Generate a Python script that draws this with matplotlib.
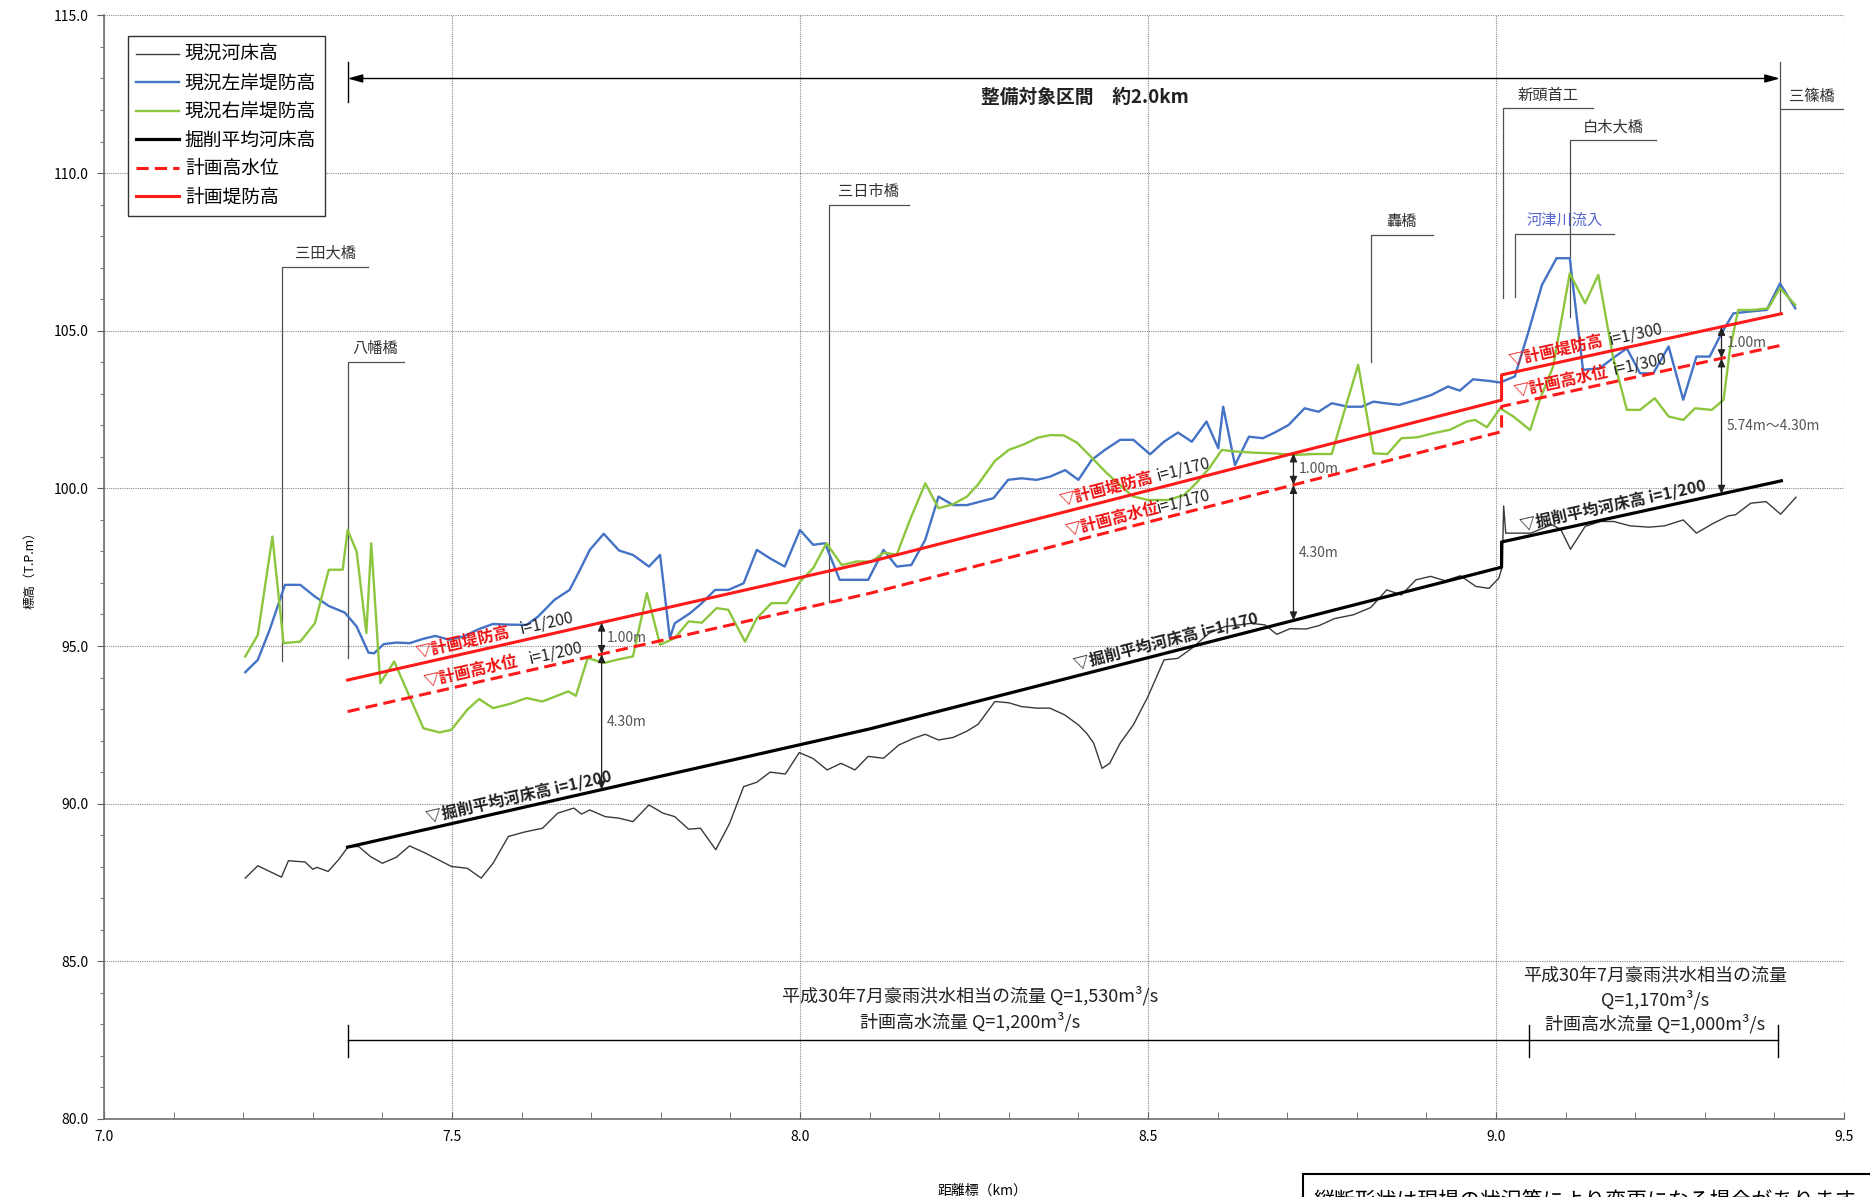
import numpy as np
import matplotlib
matplotlib.use('Agg')
from matplotlib import pyplot as plt
from matplotlib.patches import Rectangle
from matplotlib.ticker import FormatStrFormatter, MultipleLocator

plt.rcParams['font.family'] = ['Noto Sans CJK JP', 'DejaVu Sans']

##-----------------------------------------------------------------------------
## 現況河床高
bed_km = [7.203, 7.221, 7.255, 7.265, 7.289, 7.300, 7.306, 7.322, 7.337, 7.351,
          7.366, 7.383, 7.400, 7.420, 7.439, 7.462, 7.476, 7.499, 7.522, 7.542,
          7.559, 7.581, 7.604, 7.630, 7.652, 7.675, 7.686, 7.698, 7.720, 7.740,
          7.760, 7.783, 7.803, 7.820, 7.840, 7.857, 7.879, 7.899, 7.919, 7.938,
          7.957, 7.979, 7.999, 8.019, 8.039, 8.059, 8.079, 8.098, 8.120, 8.142,
          8.163, 8.180, 8.199, 8.220, 8.240, 8.256, 8.280, 8.300, 8.318, 8.340,
          8.359, 8.380, 8.400, 8.412, 8.422, 8.434, 8.445, 8.460, 8.479, 8.500,
          8.523, 8.543, 8.563, 8.588, 8.611, 8.631, 8.648, 8.668, 8.685, 8.704,
          8.727, 8.746, 8.768, 8.795, 8.820, 8.843, 8.864, 8.885, 8.906, 8.927,
          8.949, 8.971, 8.990, 9.004, 9.009, 9.011, 9.014, 9.050, 9.080, 9.093,
          9.107, 9.128, 9.150, 9.169, 9.193, 9.220, 9.242, 9.269, 9.288, 9.312,
          9.334, 9.344, 9.366, 9.388, 9.409, 9.431]
bed_el = [87.64, 88.03, 87.67, 88.19, 88.15, 87.92, 87.98, 87.85, 88.22, 88.64,
          88.64, 88.32, 88.11, 88.30, 88.66, 88.43, 88.27, 88.01, 87.95, 87.64,
          88.11, 88.96, 89.10, 89.22, 89.70, 89.86, 89.67, 89.80, 89.59, 89.54,
          89.43, 89.96, 89.70, 89.59, 89.19, 89.22, 88.54, 89.38, 90.54, 90.68,
          91.00, 90.94, 91.62, 91.43, 91.07, 91.28, 91.07, 91.50, 91.44, 91.86,
          92.07, 92.20, 92.02, 92.10, 92.30, 92.52, 93.24, 93.20, 93.08, 93.03,
          93.03, 92.82, 92.50, 92.23, 91.92, 91.12, 91.28, 91.92, 92.50, 93.40,
          94.56, 94.61, 94.93, 95.41, 95.62, 95.67, 95.72, 95.67, 95.37, 95.55,
          95.54, 95.65, 95.87, 95.99, 96.22, 96.78, 96.62, 97.10, 97.21, 97.07,
          97.23, 96.89, 96.83, 97.15, 97.52, 99.44, 98.58, 98.58, 98.85, 98.70,
          98.07, 98.79, 98.95, 98.95, 98.81, 98.77, 98.81, 99.00, 98.58, 98.89,
          99.13, 99.16, 99.53, 99.58, 99.18, 99.72]

## 現況左岸堤防高
left_km = [7.203, 7.221, 7.238, 7.260, 7.282, 7.303, 7.323, 7.346, 7.363, 7.380,
           7.388, 7.402, 7.420, 7.439, 7.459, 7.476, 7.496, 7.516, 7.539, 7.559,
           7.578, 7.607, 7.624, 7.647, 7.669, 7.684, 7.698, 7.718, 7.740, 7.760,
           7.783, 7.799, 7.813, 7.820, 7.842, 7.859, 7.878, 7.897, 7.919, 7.938,
           7.957, 7.978, 8.000, 8.019, 8.036, 8.057, 8.079, 8.098, 8.120, 8.139,
           8.160, 8.180, 8.199, 8.220, 8.240, 8.259, 8.278, 8.299, 8.318, 8.340,
           8.359, 8.381, 8.400, 8.419, 8.438, 8.460, 8.479, 8.503, 8.523, 8.543,
           8.563, 8.584, 8.601, 8.608, 8.625, 8.645, 8.665, 8.682, 8.702, 8.725,
           8.745, 8.764, 8.787, 8.807, 8.824, 8.841, 8.861, 8.886, 8.907, 8.931,
           8.948, 8.967, 8.989, 9.006, 9.027, 9.046, 9.066, 9.087, 9.106, 9.125,
           9.149, 9.168, 9.188, 9.207, 9.226, 9.248, 9.269, 9.288, 9.307, 9.324,
           9.341, 9.365, 9.389, 9.408, 9.430]
left_el = [94.17, 94.56, 95.51, 96.94, 96.94, 96.57, 96.27, 96.06, 95.62, 94.79,
           94.77, 95.06, 95.11, 95.09, 95.23, 95.32, 95.20, 95.30, 95.54, 95.70,
           95.68, 95.67, 95.94, 96.46, 96.78, 97.42, 98.05, 98.56, 98.03, 97.89,
           97.52, 97.89, 95.25, 95.72, 96.04, 96.36, 96.78, 96.78, 96.99, 98.05,
           97.78, 97.52, 98.68, 98.21, 98.26, 97.10, 97.10, 97.10, 98.05, 97.52,
           97.57, 98.37, 99.74, 99.47, 99.47, 99.58, 99.69, 100.27, 100.32, 100.27,
           100.37, 100.58, 100.27, 100.90, 101.22, 101.54, 101.54, 101.08, 101.48, 101.77,
           101.48, 102.12, 101.27, 102.59, 100.74, 101.64, 101.59, 101.77, 102.01, 102.54,
           102.43, 102.70, 102.59, 102.59, 102.75, 102.70, 102.65, 102.81, 102.96, 103.23,
           103.10, 103.46, 103.41, 103.36, 103.55, 104.92, 106.45, 107.30, 107.30, 103.76,
           103.81, 104.13, 104.44, 103.65, 103.65, 104.50, 102.81, 104.18, 104.18, 104.92,
           105.55, 105.61, 105.66, 106.50, 105.71]

## 現況右岸堤防高
right_km = [7.203, 7.221, 7.242, 7.258, 7.282, 7.303, 7.323, 7.343, 7.350, 7.363,
            7.377, 7.384, 7.397, 7.417, 7.439, 7.459, 7.482, 7.499, 7.522, 7.539,
            7.559, 7.584, 7.607, 7.630, 7.667, 7.678, 7.695, 7.718, 7.740, 7.760,
            7.780, 7.799, 7.820, 7.840, 7.859, 7.880, 7.897, 7.921, 7.938, 7.959,
            7.981, 8.000, 8.019, 8.038, 8.060, 8.081, 8.103, 8.120, 8.139, 8.158,
            8.180, 8.199, 8.220, 8.240, 8.256, 8.280, 8.300, 8.322, 8.342, 8.360,
            8.379, 8.398, 8.419, 8.440, 8.455, 8.478, 8.500, 8.529, 8.552, 8.569,
            8.588, 8.606, 8.625, 8.654, 8.682, 8.710, 8.739, 8.764, 8.784, 8.802,
            8.824, 8.844, 8.864, 8.887, 8.910, 8.934, 8.958, 8.970, 8.987, 9.006,
            9.025, 9.049, 9.063, 9.082, 9.106, 9.128, 9.147, 9.168, 9.188, 9.207,
            9.228, 9.248, 9.269, 9.286, 9.310, 9.327, 9.336, 9.348, 9.370, 9.391,
            9.408, 9.430]
right_el = [94.67, 95.35, 98.47, 95.09, 95.14, 95.72, 97.42, 97.42, 98.68, 98.00,
            95.41, 98.26, 93.82, 94.51, 93.40, 92.39, 92.26, 92.34, 92.98, 93.32,
            93.03, 93.17, 93.35, 93.24, 93.56, 93.42, 94.62, 94.46, 94.58, 94.67,
            96.68, 95.04, 95.25, 95.78, 95.74, 96.20, 96.15, 95.14, 95.88, 96.36,
            96.36, 97.04, 97.47, 98.26, 97.57, 97.68, 97.68, 97.96, 97.90, 99.00,
            100.16, 99.37, 99.50, 99.74, 100.13, 100.87, 101.22, 101.40, 101.61, 101.69,
            101.68, 101.45, 100.98, 100.50, 100.20, 99.75, 99.63, 99.63, 99.79, 100.16,
            100.64, 101.22, 101.17, 101.13, 101.11, 101.06, 101.09, 101.09, 102.59, 103.92,
            101.11, 101.09, 101.59, 101.62, 101.75, 101.86, 102.12, 102.17, 101.94, 102.54,
            102.28, 101.85, 102.81, 103.86, 106.82, 105.87, 106.77, 104.18, 102.49, 102.49,
            102.86, 102.28, 102.17, 102.54, 102.49, 102.81, 104.39, 105.66, 105.66, 105.71,
            106.35, 105.82]

## 掘削平均河床高（計画）
plan_km = [7.35, 8.10, 9.008, 9.008, 9.41]
plan_el = [88.62, 92.37, 97.50, 98.30, 100.24]

depth = 4.30        # 計画高水位と掘削河床の差 (m)
freeboard = 1.00    # 余裕高 (m)

## 構造物
bridge_name = ['三田大橋', '八幡橋', '三日市橋', '轟橋', '新頭首工', '河津川流入', '白木大橋', '三篠橋']
bridge_km = [7.256, 7.350, 8.041, 8.821, 9.010, 9.028, 9.107, 9.408]

## 流量区間
section_km = [7.35, 9.047, 9.405]
flow_left = ['平成30年7月豪雨洪水相当の流量 Q=1,530m³/s', '計画高水流量 Q=1,200m³/s']
flow_right = ['平成30年7月豪雨洪水相当の流量', 'Q=1,170m³/s', '計画高水流量 Q=1,000m³/s']

##-----------------------------------------------------------------------------

plan_km = np.array(plan_km)
plan_el = np.array(plan_el)
hwl_el = plan_el + depth
levee_el = hwl_el + freeboard


def line_at(km, xs, ys):
    return float(np.interp(km, xs, ys))


def on_line(ax, km, xs, ys, text, color, off=0.22, weight='bold', size=11.5):
    # 縦断線に沿わせた文字
    y = line_at(km, xs, ys) + off
    slope = (line_at(km + 0.05, xs, ys) - line_at(km, xs, ys)) / 0.05
    ax.text(km, y, text, color=color, fontsize=size, fontweight=weight,
            rotation=np.degrees(np.arctan(slope)), transform_rotates_text=True,
            rotation_mode='anchor', ha='left', va='baseline', zorder=6)


def dim_arrow(ax, km, y_top, y_bot):
    ax.annotate('', xy=(km, y_bot), xytext=(km, y_top),
                arrowprops=dict(arrowstyle='<|-|>,head_length=0.5,head_width=0.22',
                                color='#222222', lw=0.9, shrinkA=0, shrinkB=0),
                zorder=7)

##-----------------------------------------------------------------------------

fig = plt.figure(figsize=(18.7, 11.97), dpi=100)
ax = fig.add_axes([0.0556, 0.0652, 0.9305, 0.9219])

h_bed, = ax.plot(bed_km, bed_el, color='#3a3a3a', lw=1.0, zorder=3)
h_left, = ax.plot(left_km, left_el, color='#4472c4', lw=1.7, zorder=3)
h_right, = ax.plot(right_km, right_el, color='#8cc63f', lw=1.7, zorder=3)
h_plan, = ax.plot(plan_km, plan_el, color='black', lw=2.3, zorder=4)
h_hwl, = ax.plot(plan_km, hwl_el, color='#ff1a1a', lw=2.2, dashes=(4, 2), zorder=4)
h_levee, = ax.plot(plan_km, levee_el, color='#ff1a1a', lw=2.2, zorder=4)

ax.set_xlim(7.0, 9.5)
ax.set_ylim(80.0, 115.0)
ax.xaxis.set_major_locator(MultipleLocator(0.5))
ax.xaxis.set_minor_locator(MultipleLocator(0.1))
ax.yaxis.set_major_locator(MultipleLocator(5.0))
ax.yaxis.set_minor_locator(MultipleLocator(1.0))
ax.xaxis.set_major_formatter(FormatStrFormatter('%.1f'))
ax.yaxis.set_major_formatter(FormatStrFormatter('%.1f'))
ax.tick_params(axis='x', which='both', direction='in', length=5, labelsize=10, pad=8, color='#606060')
ax.tick_params(axis='y', which='major', direction='out', length=5, labelsize=10, pad=6, color='#606060')
ax.tick_params(axis='y', which='minor', direction='out', length=3, color='#606060')
ax.grid(True, which='major', color='#8a8a8a', linestyle=(0, (1, 1)), linewidth=0.8)
ax.set_axisbelow(True)
for side in ['top', 'right']:
    ax.spines[side].set_visible(False)
for side in ['left', 'bottom']:
    ax.spines[side].set_color('#707070')
    ax.spines[side].set_linewidth(1.2)

ax.set_ylabel('標高（T.P.m）', fontsize=9)
ax.yaxis.set_label_coords(-0.039, 0.5)
ax.set_xlabel('距離標（km）', fontsize=10)
ax.xaxis.set_label_coords(0.505, -0.059)

leg = ax.legend([h_bed, h_left, h_right, h_plan, h_hwl, h_levee],
                ['現況河床高', '現況左岸堤防高', '現況右岸堤防高', '掘削平均河床高', '計画高水位', '計画堤防高'],
                loc='upper left', bbox_to_anchor=(0.0136, 0.9816), borderaxespad=0,
                fontsize=13.5, handlelength=2.3, handletextpad=0.3, labelspacing=0.4,
                borderpad=0.45, fancybox=False, framealpha=1)
leg.get_frame().set_edgecolor('#333333')
leg.get_frame().set_linewidth(1.0)

## 整備対象区間
ax.annotate('', xy=(7.35, 113.0), xytext=(9.408, 113.0),
            arrowprops=dict(arrowstyle='<|-|>,head_length=0.9,head_width=0.25',
                            color='black', lw=1.0, shrinkA=0, shrinkB=0))
ax.plot([7.35, 7.35], [112.27, 113.53], color='black', lw=1.0)
ax.text(8.41, 112.4, '整備対象区間　約2.0km', fontsize=13.5, fontweight='bold',
        color='#222222', ha='center', va='center')

## 構造物の引出線
leader_top = [107.03, 104.02, 109.0, 108.04, 112.06, 108.07, 111.05, 112.02]
leader_bot = [94.51, 94.61, 96.41, 104.02, 106.03, 106.06, 105.45, 105.55]
leader_end = [7.38, 7.431, 8.157, 8.909, 9.139, 9.170, 9.230, 9.5]
for name, km, top, bot, end in zip(bridge_name, bridge_km, leader_top, leader_bot, leader_end):
    ax.plot([km, km, end], [bot, top, top], color='#505050', lw=0.9, zorder=2)
    color = '#5566cc' if name == '河津川流入' else '#333333'
    ax.text((km + end) / 2, top + 0.15, name, fontsize=11, color=color,
            ha='center', va='bottom')
ax.plot([9.408, 9.408], [112.02, 113.53], color='#505050', lw=0.9, zorder=2)

## 勾配の注記
for k_head, k_tail, i_txt in [(7.450, 7.600, 'i=1/200'), (8.375, 8.515, 'i=1/170'), (9.020, 9.164, 'i=1/300')]:
    on_line(ax, k_head, plan_km, levee_el, '▽計画堤防高', '#ee1111')
    on_line(ax, k_tail, plan_km, levee_el, i_txt, '#222222', weight='normal')
for k_head, k_tail, i_txt in [(7.462, 7.613, 'i=1/200'), (8.384, 8.515, 'i=1/170'), (9.027, 9.170, 'i=1/300')]:
    on_line(ax, k_head, plan_km, hwl_el, '▽計画高水位', '#ee1111')
    on_line(ax, k_tail, plan_km, hwl_el, i_txt, '#222222', weight='normal')
for k_head, i_txt in [(7.465, 'i=1/200'), (8.395, 'i=1/170'), (9.037, 'i=1/200')]:
    on_line(ax, k_head, plan_km, plan_el, '▽掘削平均河床高 ' + i_txt, '#222222', weight='bold')

## 余裕高・水深の寸法線
for km, deep_txt in [(7.715, '%.2fm' % depth), (8.709, '%.2fm' % depth), (9.324, '5.74m～%.2fm' % depth)]:
    y_lv = line_at(km, plan_km, levee_el)
    y_hw = line_at(km, plan_km, hwl_el)
    y_pb = line_at(km, plan_km, plan_el)
    dim_arrow(ax, km, y_lv, y_hw)
    dim_arrow(ax, km, y_hw, y_pb)
    ax.text(km + 0.008, (y_lv + y_hw) / 2, '%.2fm' % freeboard, fontsize=10,
            color='#555555', ha='left', va='center', zorder=7)
    ax.text(km + 0.008, (y_hw + y_pb) / 2, deep_txt, fontsize=10,
            color='#555555', ha='left', va='center', zorder=7)

## 流量区間
ax.plot([section_km[0], section_km[-1]], [82.5, 82.5], color='black', lw=1.0)
for km in section_km:
    ax.plot([km, km], [81.97, 82.98], color='black', lw=1.0)
for txt, y in zip(flow_left, [83.9, 83.07]):
    ax.text(8.245, y, txt, fontsize=13, ha='center', va='center', color='#222222')
for txt, y in zip(flow_right, [84.54, 83.79, 83.03]):
    ax.text(9.229, y, txt, fontsize=13, ha='center', va='center', color='#222222')

## 欄外の注記（図の下端で切れる）
fig.patches.append(Rectangle((1303 / 1870, -0.02), 0.4, 0.02 + (1197 - 1174) / 1197,
                             transform=fig.transFigure, facecolor='white',
                             edgecolor='black', lw=1.5))
fig.text(1314 / 1870, 1 - 1191 / 1197, '縦断形状は現場の状況等により変更になる場合があります。',
         fontsize=15, ha='left', va='top')

fig.savefig('out.png', dpi=100)
